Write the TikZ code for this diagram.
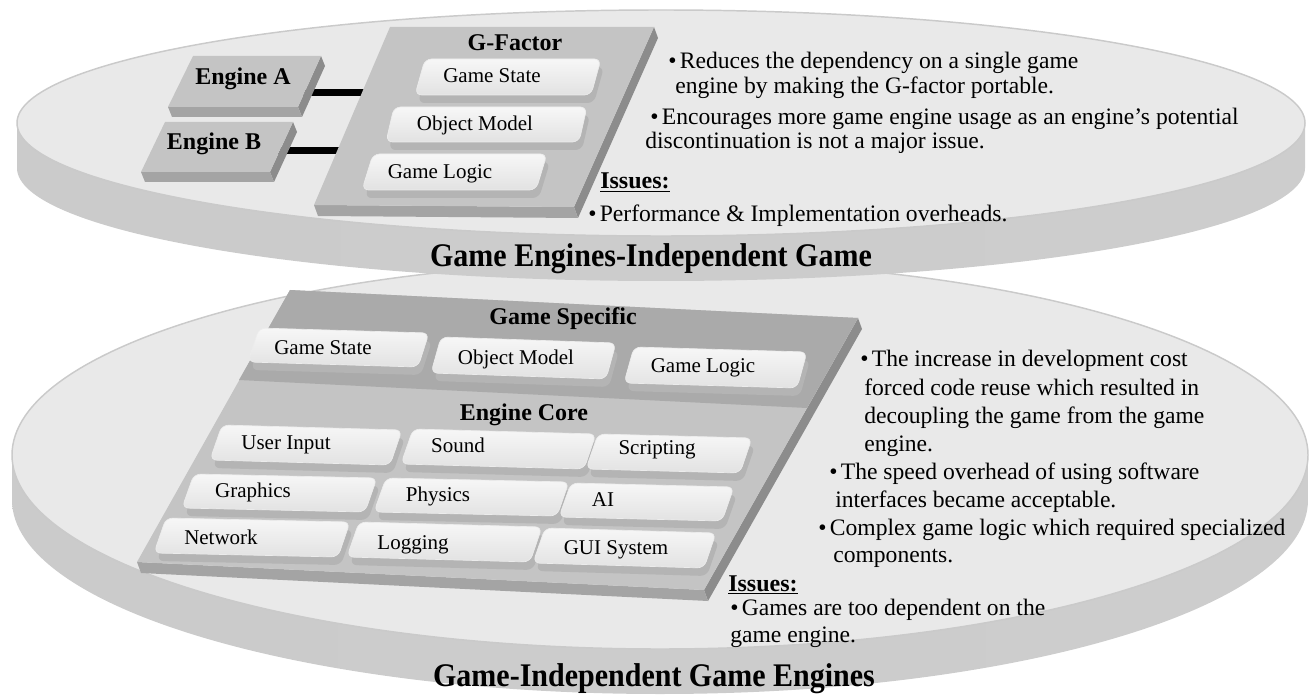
\documentclass[tikz,border=0pt]{standalone}
\usepackage{fontspec}
\setmainfont{Liberation Serif}
\usepackage{graphicx}
\usetikzlibrary{calc}

\definecolor{faceC}{HTML}{E9E9E9}
\definecolor{rimC}{HTML}{CACACA}
\definecolor{sideL}{HTML}{CBCBCB}
\definecolor{sideM}{HTML}{DDDDDD}
\definecolor{sideR}{HTML}{CDCDCD}
\definecolor{slabC}{HTML}{C4C4C4}
\definecolor{slabD}{HTML}{AAAAAA}
\definecolor{slabBand}{HTML}{A4A4A4}
\definecolor{slabEdge}{HTML}{8C8C8C}
\definecolor{keyTop}{HTML}{F7F7F7}
\definecolor{keyBot}{HTML}{E2E2E2}
\definecolor{keyBand}{HTML}{B4B4B4}

% rounded, slanted key plate: top-left, top-right, height, slant
\newcommand\keyplate[4]{%
  \coordinate (kA) at (#1);
  \coordinate (kB) at (#2);
  \coordinate (kC) at ($(kB)+(-#4,#3)$);
  \coordinate (kD) at ($(kA)+(-#4,#3)$);
  \fill[keyBand, rounded corners=5pt]
    ($(kA)+(3,8)$) -- ($(kB)+(3,8)$) -- ($(kC)+(3,8)$) -- ($(kD)+(3,8)$) -- cycle;
  \path[top color=keyTop, bottom color=keyBot, draw=white!85!gray,
        line width=0.5pt, rounded corners=5pt]
    (kA) -- (kB) -- (kC) -- (kD) -- cycle;
}

% slanted slab with its bottom and right faces: TL, TR, BR, BL, thickness, face colour
\newcommand\slabplate[6]{%
  \fill[slabEdge] (#2) -- (#3) -- ($(#3)+(4,#5)$) -- ($(#2)+(4,#5)$) -- cycle;
  \fill[slabBand] (#4) -- (#3) -- ($(#3)+(4,#5)$) -- ($(#4)+(4,#5)$) -- cycle;
  \fill[#6] (#1) -- (#2) -- (#3) -- (#4) -- cycle;
}

\begin{document}
\begin{tikzpicture}[x=0.75pt, y=-0.75pt,
  body/.style={anchor=base west, inner sep=0pt, font=\fontsize{17.7}{20}\selectfont},
  keylabel/.style={anchor=base, inner sep=0pt, font=\fontsize{15.75}{18}\selectfont},
  hdr/.style={anchor=base, inner sep=0pt, font=\bfseries\fontsize{18}{20}\selectfont},
  issue/.style={anchor=base west, inner sep=0pt, font=\bfseries\fontsize{18}{20}\selectfont},
  discname/.style={anchor=base, inner sep=0pt, font=\bfseries\fontsize{22.5}{26}\selectfont},
  discside/.style={left color=sideL, middle color=sideM, right color=sideR},
  discface/.style={fill=faceC, draw=rimC, line width=1.1pt},
  linkbar/.style={line width=5.25pt, black}
]
\useasboundingbox (0,0) rectangle (1309,698);

% ---------- lower disc ----------
\path[discside] (12,455) arc[start angle=180, end angle=0, x radius=648, y radius=194]
  -- ++(0,45) arc[start angle=0, end angle=180, x radius=648, y radius=194] -- cycle;
\path[discface] (660,455) ellipse [x radius=648, y radius=194];

% ---------- upper disc ----------
\path[discside] (17,123) arc[start angle=180, end angle=0, x radius=644, y radius=113]
  -- ++(0,45) arc[start angle=0, end angle=180, x radius=644, y radius=113] -- cycle;
\path[discface] (661,123) ellipse [x radius=644, y radius=113];

% ---------- upper disc: engines and G-Factor ----------
\coordinate (ea-port) at (300,93);
\coordinate (gf-portA) at (372,93);
\coordinate (eb-port) at (275,151);
\coordinate (gf-portB) at (345,151);
\draw[linkbar] (ea-port) -- (gf-portA);
\draw[linkbar] (eb-port) -- (gf-portB);

\slabplate{193,56}{321,56}{298,107}{168,107}{10}{slabC}
\slabplate{165,122}{293,122}{270,172}{141,172}{10}{slabC}
\node[hdr] (engA) at (243,85) {Engine A};
\node[hdr] (engB) at (214,150) {Engine B};

\slabplate{390,27}{654,27}{574,207}{314,205}{11}{slabC}
\node[hdr] (gf) at (515,51) {G-Factor};

\keyplate{425,59}{601,59}{36}{10}
\node[keylabel] (gf-state) at (492,83) {Game State};
\keyplate{394,107}{587,107}{35}{8}
\node[keylabel] (gf-model) at (475,131) {Object Model};
\keyplate{373,154}{547,154}{36}{11}
\node[keylabel] (gf-logic) at (440,179) {Game Logic};

\node[body] (t1a) at (668,69) {\textbullet\kern2.5pt Reduces the dependency on a single game};
\node[body] (t1b) at (675,94) {engine by making the G-factor portable.};
\node[body] (t2a) at (650,125) {\textbullet\kern2.5pt Encourages more game engine usage as an engine’s potential};
\node[body] (t2b) at (645,149) {discontinuation is not a major issue.};
\node[issue] (iss1) at (600,189) {\underline{Issues:}};
\node[body] (t3a) at (588,222) {\textbullet\kern2.5pt Performance \& Implementation overheads.};

\node[discname] (top-name) at (651,267) {\scalebox{1}[1.1]{Game Engines-Independent Game}};

% ---------- lower disc: layered engine ----------
\slabplate{290,290}{858,318}{704,590}{137,562}{11}{slabC}
\fill[slabD] (290,290) -- (858,318) -- (807,408) -- (239,380) -- cycle;
\node[hdr] (gs) at (563,325) {Game Specific};
\node[hdr] (ec) at (524,420) {Engine Core};

\keyplate{259,328}{429,333}{34}{11}
\node[keylabel] (gs-state) at (323,354) {Game State};
\keyplate{441,337}{616,343}{36}{10}
\node[keylabel] (gs-model) at (516,364) {Object Model};
\keyplate{634,347}{807,352}{36}{10}
\node[keylabel] (gs-logic) at (703,373) {Game Logic};

\keyplate{222,425}{402,430}{35}{12}
\node[keylabel] (ec-input) at (286,449) {User Input};
\keyplate{413,429}{596,434}{35}{12}
\node[keylabel] (ec-sound) at (458,452) {Sound};
\keyplate{598,434}{752,438}{35}{12}
\node[keylabel] (ec-script) at (657,454) {Scripting};

\keyplate{194,474}{377,478}{34}{12}
\node[keylabel] (ec-gfx) at (253,497) {Graphics};
\keyplate{386,478}{569,482}{34}{12}
\node[keylabel] (ec-phys) at (438,501) {Physics};
\keyplate{571,483}{734,487}{34}{12}
\node[keylabel] (ec-ai) at (603,506) {AI};

\keyplate{166,518}{350,522}{35}{12}
\node[keylabel] (ec-net) at (221,544) {Network};
\keyplate{359,522}{542,527}{35}{12}
\node[keylabel] (ec-log) at (413,549) {Logging};
\keyplate{545,528}{716,533}{35}{12}
\node[keylabel] (ec-gui) at (616,554) {GUI System};

\node[body] (b1a) at (860,366) {\textbullet\kern2.5pt The increase in development cost};
\node[body] (b1b) at (864,395) {forced code reuse which resulted in};
\node[body] (b1c) at (864,423) {decoupling the game from the game};
\node[body] (b1d) at (864,451) {engine.};
\node[body] (b2a) at (829,479) {\textbullet\kern2.5pt The speed overhead of using software};
\node[body] (b2b) at (835,507) {interfaces became acceptable.};
\node[body] (b3a) at (818,535) {\textbullet\kern2.5pt Complex game logic which required specialized};
\node[body] (b3b) at (833,562) {components.};
\node[issue] (iss2) at (728,591) {\underline{Issues:}};
\node[body] (b4a) at (730,615) {\textbullet\kern2.5pt Games are too dependent on the};
\node[body] (b4b) at (730,642) {game engine.};

\node[discname] (bottom-name) at (654,686) {\scalebox{1}[1.1]{Game-Independent Game Engines}};
\end{tikzpicture}
\end{document}
